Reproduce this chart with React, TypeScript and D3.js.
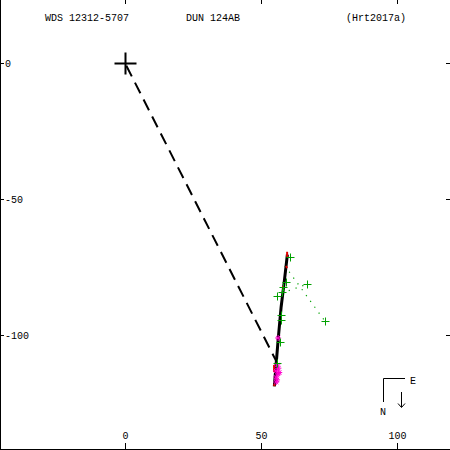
import React from 'react';
import * as d3 from 'd3';

const W = 450;
const H = 450;

const titleLeft = 'WDS 12312-5707';
const titleMid = 'DUN 124AB';
const titleRight = '(Hrt2017a)';

const xTicks = [0, 50, 100];
const yTicks = [0, -50, -100];

// orbit arc (units)
const orbitX = [59.7, 58.6, 57.4, 56.3, 55.5, 54.9];
const orbitY = [-70.4, -80.0, -89.7, -101.8, -111.5, -118.9];

// line from primary to predicted position
const nodeX = 55.6;
const nodeY = -109.6;

// green visual measures and their predicted orbit points
const obsX = [60.7, 66.9, 55.9, 57.7, 58.1, 59.2, 57.4, 57.4, 73.5, 57.0, 55.9];
const obsY = [-71.3, -81.3, -85.7, -84.2, -82.4, -80.5, -92.6, -94.5, -94.9, -102.6, -110.3];
const predX = [59.6, 57.7, 58.2, 58.0, 58.1, 58.4, 57.3, 57.3, 58.8, 56.5, 55.7];
const predY = [-71.0, -84.6, -84.0, -84.0, -82.4, -80.0, -92.6, -94.5, -74.6, -102.5, -110.0];

// red residual segments
const redX1 = [59.6, 59.2, 58.1, 54.8, 54.9];
const redY1 = [-69.4, -74.6, -82.0, -111.0, -117.9];
const redX2 = [59.6, 59.6, 58.1, 54.8, 54.9];
const redY2 = [-71.3, -75.4, -82.9, -113.6, -118.8];

// magenta speckle measures
const spX = [56.3, 56.0, 56.4, 55.5, 56.3, 55.6, 55.9, 55.6, 56.7];
const spY = [-101.1, -111.0, -112.2, -113.2, -114.3, -115.4, -116.5, -117.3, -113.8];

const font = '"Liberation Mono", "DejaVu Sans Mono", monospace';

export default function App() {
  const x = d3.scaleLinear().domain([0, 100]).range([125, 397]);
  const y = d3.scaleLinear().domain([0, -100]).range([63, 335]);

  const orbitLine = d3
    .line<number>()
    .x((d, i) => x(orbitX[i]))
    .y((d, i) => y(orbitY[i]));

  const cross = (cx: number, cy: number, r: number) =>
    `M${cx - r},${cy}H${cx + r}M${cx},${cy - r}V${cy + r}`;

  const star = (cx: number, cy: number, r: number) =>
    `M${cx - r},${cy}H${cx + r}M${cx},${cy - r}V${cy + r}` +
    `M${cx - r * 0.7},${cy - r * 0.7}L${cx + r * 0.7},${cy + r * 0.7}` +
    `M${cx - r * 0.7},${cy + r * 0.7}L${cx + r * 0.7},${cy - r * 0.7}`;

  return (
    <svg
      width={W}
      height={H}
      style={{ position: 'absolute', left: 0, top: 0, background: '#fff' }}
      fontFamily={font}
      fontSize={10}
    >
      {/* frame */}
      <line x1={0.5} y1={0} x2={0.5} y2={H} stroke="#000" />
      <line x1={0} y1={449.5} x2={W} y2={449.5} stroke="#000" />

      {xTicks.map((t) => (
        <g key={'x' + t}>
          <line x1={x(t) + 0.5} x2={x(t) + 0.5} y1={0} y2={4} stroke="#000" />
          <line x1={x(t) + 0.5} x2={x(t) + 0.5} y1={443} y2={449} stroke="#000" />
          <text x={x(t) + 0.5} y={439} textAnchor="middle">{t}</text>
        </g>
      ))}
      {yTicks.map((t) => (
        <g key={'y' + t}>
          <line x1={0} x2={4} y1={y(t) + 0.5} y2={y(t) + 0.5} stroke="#000" />
          <line x1={446} x2={450} y1={y(t) + 0.5} y2={y(t) + 0.5} stroke="#000" />
          <text x={5} y={y(t) + 4}>{t}</text>
        </g>
      ))}

      <text x={45} y={21}>{titleLeft}</text>
      <text x={186} y={21}>{titleMid}</text>
      <text x={346} y={21}>{titleRight}</text>

      {/* primary */}
      <path d={cross(x(0) + 0.5, y(0) + 0.5, 11)} stroke="#000" strokeWidth={2} fill="none" />

      {/* dashed line to node */}
      <line
        x1={x(0)}
        y1={y(0)}
        x2={x(nodeX)}
        y2={y(nodeY)}
        stroke="#000"
        strokeWidth={2}
        strokeDasharray="12,7"
        strokeDashoffset={-3}
      />

      {/* O-C dotted lines */}
      {obsX.map((v, i) => (
        <line
          key={'oc' + i}
          x1={x(predX[i])}
          y1={y(predY[i])}
          x2={x(v)}
          y2={y(obsY[i])}
          stroke="#00a000"
          strokeWidth={1.2}
          strokeDasharray="1.2,6"
        />
      ))}

      {/* orbit */}
      <path d={orbitLine(orbitX) || ''} stroke="#000" strokeWidth={3} fill="none" />

      {redX1.map((v, i) => (
        <line
          key={'r' + i}
          x1={x(v)}
          y1={y(redY1[i])}
          x2={x(redX2[i])}
          y2={y(redY2[i])}
          stroke="#e00000"
          strokeWidth={2}
        />
      ))}

      {spX.map((v, i) => (
        <path key={'s' + i} d={star(x(v), y(spY[i]), 3)} stroke="#ff00cc" strokeWidth={1} fill="none" />
      ))}

      {obsX.map((v, i) => (
        <path key={'o' + i} d={cross(Math.round(x(v)) + 0.5, Math.round(y(obsY[i])) + 0.5, 4)} stroke="#00a000" fill="none" />
      ))}

      {/* compass */}
      <path d="M383.5,402V378.5H405" stroke="#000" fill="none" />
      <text x={413} y={384} textAnchor="middle">E</text>
      <text x={383} y={415} textAnchor="middle">N</text>
      <path d="M401.5,392V407M398,403.5L401.5,407.5L405,403.5" stroke="#000" fill="none" />
    </svg>
  );
}
